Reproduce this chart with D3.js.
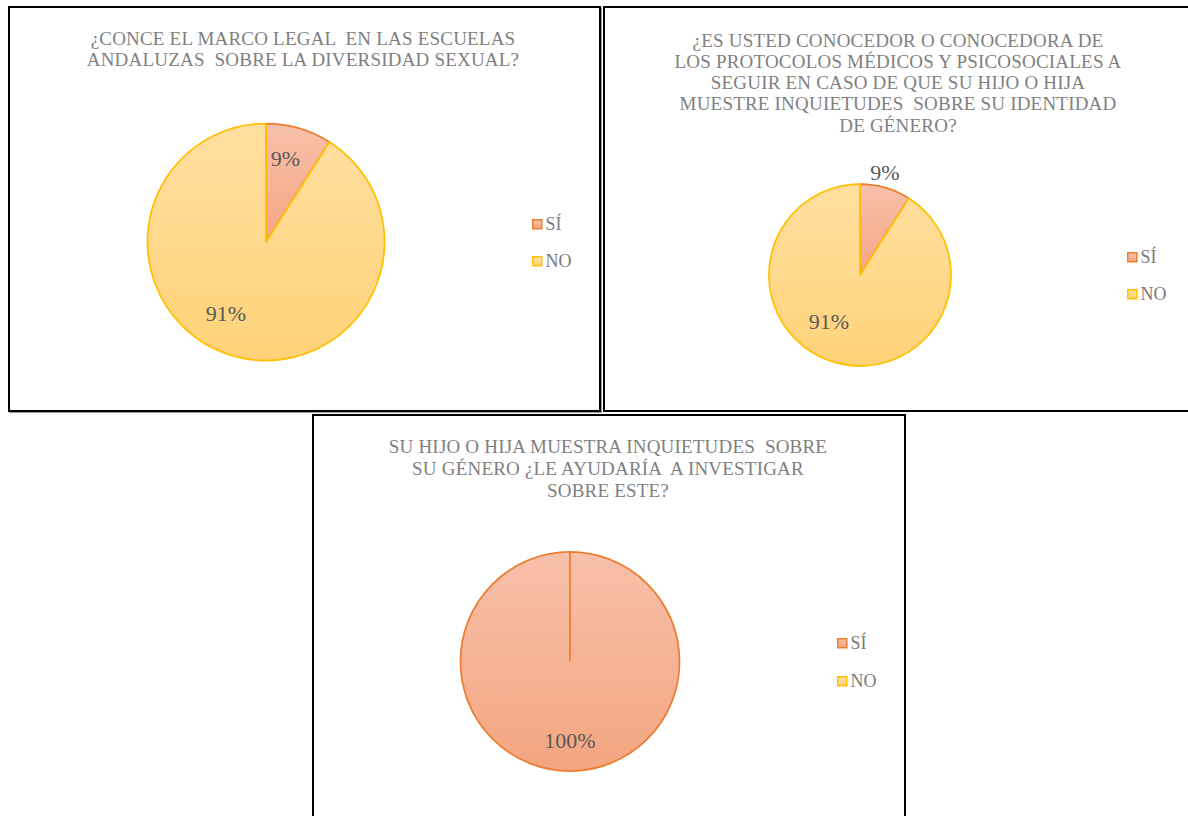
<!DOCTYPE html>
<html>
<head>
<meta charset="utf-8">
<script src="https://cdn.jsdelivr.net/npm/d3@7/dist/d3.min.js"></script>
<style>
  html, body { margin: 0; padding: 0; background: #ffffff; }
  svg { display: block; }
  text { font-family: "Liberation Serif", "Times New Roman", serif; }
</style>
</head>
<body>
<svg id="chart" width="1188" height="816"></svg>
<script>
// Answer categories shared by the three survey questions
const categories = ["SÍ", "NO"];

// Share of answers (%) for each question, in category order
const q1Values = [9, 91];
const q2Values = [9, 91];
const q3Values = [100, 0];

// Question titles, one entry per line
const q1Title = [
  "¿CONCE EL MARCO LEGAL  EN LAS ESCUELAS",
  "ANDALUZAS  SOBRE LA DIVERSIDAD SEXUAL?"
];
const q2Title = [
  "¿ES USTED CONOCEDOR O CONOCEDORA DE",
  "LOS PROTOCOLOS MÉDICOS Y PSICOSOCIALES A",
  "SEGUIR EN CASO DE QUE SU HIJO O HIJA",
  "MUESTRE INQUIETUDES  SOBRE SU IDENTIDAD",
  "DE GÉNERO?"
];
const q3Title = [
  "SU HIJO O HIJA MUESTRA INQUIETUDES  SOBRE",
  "SU GÉNERO ¿LE AYUDARÍA  A INVESTIGAR",
  "SOBRE ESTE?"
];

// Slice styling per category
const sliceStyle = {
  "SÍ": { top: "#f7c0aa", bottom: "#f4a580", stroke: "#ed7d31" },
  "NO": { top: "#ffdfa0", bottom: "#ffd278", stroke: "#ffc000" }
};

// Panel layout: frame, title anchor, pie placement, legend, label placement
const panels = [
  {
    frame: { x: 9, y: 7, w: 591, h: 404 }, innerShade: true,
    title: q1Title, values: q1Values,
    titleX: 303, titleY: 44.5, lineH: 21,
    cx: 266, cy: 242, r: 118.5,
    legendX: 532, legendY: [219, 256],
    labels: [{ k: 0.727, shift: -3.1 }, { k: 0.688, shift: 13.2 }]
  },
  {
    frame: { x: 604, y: 7, w: 590, h: 404 }, innerShade: false,
    title: q2Title, values: q2Values,
    titleX: 898, titleY: 46.5, lineH: 21.3,
    cx: 860, cy: 275, r: 91,
    legendX: 1127, legendY: [252, 289],
    labels: [{ k: 1.165, shift: -2.6 }, { k: 0.61, shift: 17.8 }]
  },
  {
    frame: { x: 313, y: 415, w: 592, h: 410 }, innerShade: false,
    title: q3Title, values: q3Values,
    titleX: 608, titleY: 452.5, lineH: 22,
    cx: 570, cy: 661.5, r: 109.5,
    legendX: 837, legendY: [638, 676],
    labels: [{ k: 0.72, shift: 0 }, { k: 0.7, shift: 0 }]
  }
];

const svg = d3.select("#chart");
const defs = svg.append("defs");

// Vertical gradient fills for the slices and legend swatches
categories.forEach((c, i) => {
  const g = defs.append("linearGradient")
    .attr("id", "grad" + i)
    .attr("x1", 0).attr("y1", 0).attr("x2", 0).attr("y2", 1);
  g.append("stop").attr("offset", "0%").attr("stop-color", sliceStyle[c].top);
  g.append("stop").attr("offset", "100%").attr("stop-color", sliceStyle[c].bottom);
});

const pie = d3.pie().sort(null).value(d => d.value);
const toRad = Math.PI / 180;

panels.forEach(p => {
  const g = svg.append("g");

  // Frame
  if (p.innerShade) {
    g.append("path")
      .attr("d", `M${p.frame.x + p.frame.w + 1.5},${p.frame.y} V${p.frame.y + p.frame.h + 1.5} H${p.frame.x}`)
      .attr("fill", "none").attr("stroke", "#9a9a9a").attr("stroke-width", 1);
  }
  g.append("rect")
    .attr("x", p.frame.x).attr("y", p.frame.y)
    .attr("width", p.frame.w).attr("height", p.frame.h)
    .attr("fill", "none").attr("stroke", "#000").attr("stroke-width", 2);

  // Title
  const t = g.append("text")
    .attr("text-anchor", "middle")
    .attr("fill", "#7f7f7f")
    .style("font-size", "19px")
    .style("letter-spacing", "0.2px")
    .style("white-space", "pre");
  p.title.forEach((line, i) => {
    t.append("tspan")
      .attr("x", p.titleX)
      .attr("y", p.titleY + i * p.lineH)
      .text(line);
  });

  // Pie slices
  const data = categories.map((c, i) => ({ cat: c, idx: i, value: p.values[i] }));
  const arcs = pie(data).filter(a => a.data.value > 0);
  const arc = d3.arc().innerRadius(0).outerRadius(p.r);
  const pg = g.append("g").attr("transform", `translate(${p.cx},${p.cy})`);

  pg.selectAll("path.slice")
    .data(arcs)
    .join("path")
    .attr("class", "slice")
    .attr("d", arc)
    .attr("fill", d => `url(#grad${d.data.idx})`)
    .attr("stroke", d => sliceStyle[d.data.cat].stroke)
    .attr("stroke-width", 1.75)
    .attr("stroke-linejoin", "round");

  // A slice that fills the whole circle still shows its starting edge
  arcs.filter(a => a.endAngle - a.startAngle >= 2 * Math.PI - 1e-6).forEach(a => {
    pg.append("line")
      .attr("x1", 0).attr("y1", 0)
      .attr("x2", p.r * Math.sin(a.startAngle))
      .attr("y2", -p.r * Math.cos(a.startAngle))
      .attr("stroke", sliceStyle[a.data.cat].stroke)
      .attr("stroke-width", 1.75);
  });

  // Percentage labels
  pg.selectAll("text.lbl")
    .data(arcs)
    .join("text")
    .attr("class", "lbl")
    .attr("text-anchor", "middle")
    .attr("dy", "0.35em")
    .attr("fill", "#595959")
    .style("font-size", "22px")
    .attr("x", d => {
      const lp = p.labels[d.data.idx];
      const a = (d.startAngle + d.endAngle) / 2 + lp.shift * toRad;
      return p.r * lp.k * Math.sin(a);
    })
    .attr("y", d => {
      const lp = p.labels[d.data.idx];
      const a = (d.startAngle + d.endAngle) / 2 + lp.shift * toRad;
      return -p.r * lp.k * Math.cos(a);
    })
    .text(d => d.data.value + "%");

  // Legend
  categories.forEach((c, i) => {
    const y = p.legendY[i];
    g.append("rect")
      .attr("x", p.legendX + 0.75).attr("y", y + 0.75)
      .attr("width", 9).attr("height", 9)
      .attr("fill", `url(#grad${i})`)
      .attr("stroke", sliceStyle[c].stroke)
      .attr("stroke-width", 1.5);
    g.append("text")
      .attr("x", p.legendX + 13.5)
      .attr("y", y + 11)
      .attr("fill", "#7a7a7a")
      .style("font-size", "18px")
      .text(c);
  });
});
</script>
</body>
</html>
